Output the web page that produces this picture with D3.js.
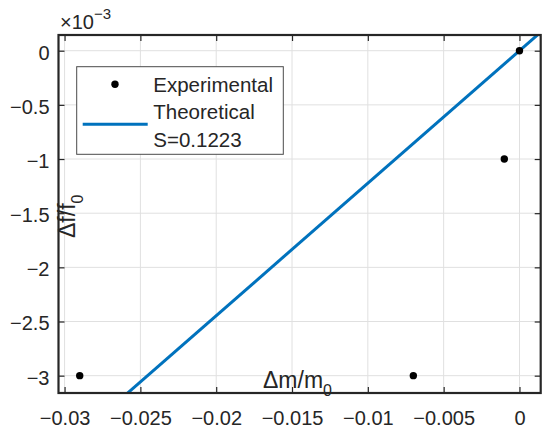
<!DOCTYPE html>
<html>
<head>
<meta charset="utf-8">
<script src="https://cdn.jsdelivr.net/npm/d3@7"></script>
<style>
  html, body { margin: 0; padding: 0; background: #fff; }
  svg { display: block; font-family: "Liberation Sans", Arial, Helvetica, sans-serif; }
  text { fill: #262626; }
</style>
</head>
<body>
<svg id="chart" width="547" height="433"></svg>
<script>
// Measured mass change vs. frequency change
const deltaM = [-0.029, -0.007, -0.001, 0];
const deltaF = [-0.003, -0.003, -0.001, 0];

// Theoretical sensitivity (Δf/f0 = S · Δm/m0)
const sensitivity = 0.1223;
const lineRange = [-0.0304, 0.0014];

// Axis ticks and their labels
const xTicks = [-0.03, -0.025, -0.02, -0.015, -0.01, -0.005, 0];
const xTickLabels = ["−0.03", "−0.025", "−0.02", "−0.015", "−0.01", "−0.005", "0"];
const yTicks = [-0.003, -0.0025, -0.002, -0.0015, -0.001, -0.0005, 0];
const yTickLabels = ["−3", "−2.5", "−2", "−1.5", "−1", "−0.5", "0"];

const legendLabels = ["Experimental", "Theoretical", "S=0.1223"];

const svg = d3.select("#chart");
const plot = { left: 58.5, right: 540.7, top: 35, bottom: 393 };

const x = d3.scaleLinear().domain([-0.0304, 0.0014]).range([plot.left, plot.right]);
const y = d3.scaleLinear().domain([-0.00316, 0.000145]).range([plot.bottom, plot.top]);

const axisColor = "#262626";
const blue = "#0072BD";

// clip region for data
svg.append("defs").append("clipPath").attr("id", "plotClip")
  .append("rect")
  .attr("x", plot.left).attr("y", plot.top)
  .attr("width", plot.right - plot.left).attr("height", plot.bottom - plot.top);

// grid
const grid = svg.append("g");
grid.selectAll("line.gx").data(xTicks).join("line")
  .attr("x1", d => x(d)).attr("x2", d => x(d))
  .attr("y1", plot.top).attr("y2", plot.bottom)
  .attr("stroke", "#e0e0e0").attr("stroke-width", 1);
grid.selectAll("line.gy").data(yTicks).join("line")
  .attr("y1", d => y(d)).attr("y2", d => y(d))
  .attr("x1", plot.left).attr("x2", plot.right)
  .attr("stroke", "#e0e0e0").attr("stroke-width", 1);

// axes with inward ticks
const fmtX = d => xTickLabels[xTicks.indexOf(d)];
const fmtY = d => yTickLabels[yTicks.indexOf(d)];

const gBottom = svg.append("g").attr("transform", `translate(0,${plot.bottom})`)
  .call(d3.axisBottom(x).tickValues(xTicks).tickFormat(fmtX).tickSize(-6).tickSizeOuter(0).tickPadding(18));
const gTop = svg.append("g").attr("transform", `translate(0,${plot.top})`)
  .call(d3.axisTop(x).tickValues(xTicks).tickFormat("").tickSize(-6).tickSizeOuter(0));
const gLeft = svg.append("g").attr("transform", `translate(${plot.left},0)`)
  .call(d3.axisLeft(y).tickValues(yTicks).tickFormat(fmtY).tickSize(-6).tickSizeOuter(0).tickPadding(9));
const gRight = svg.append("g").attr("transform", `translate(${plot.right},0)`)
  .call(d3.axisRight(y).tickValues(yTicks).tickFormat("").tickSize(-6).tickSizeOuter(0));

[gBottom, gTop, gLeft, gRight].forEach(g => {
  g.select(".domain").remove();
  g.selectAll(".tick line").attr("stroke", axisColor).attr("stroke-width", 1.2);
  g.selectAll(".tick text").attr("fill", axisColor)
    .style("font-family", '"Liberation Sans", Arial, sans-serif')
    .style("font-size", "20px");
});
gLeft.selectAll(".tick text").attr("dy", "0.42em");

// theoretical line
const lineData = lineRange.map(m => [m, sensitivity * m]);
svg.append("path")
  .datum(lineData)
  .attr("clip-path", "url(#plotClip)")
  .attr("fill", "none")
  .attr("stroke", blue)
  .attr("stroke-width", 3)
  .attr("d", d3.line().x(d => x(d[0])).y(d => y(d[1])));

// experimental points
svg.append("g").selectAll("circle")
  .data(deltaM.map((m, i) => [m, deltaF[i]]))
  .join("circle")
  .attr("cx", d => x(d[0])).attr("cy", d => y(d[1]))
  .attr("r", 3.7).attr("fill", "#000");

// axes box
svg.append("rect")
  .attr("x", plot.left).attr("y", plot.top)
  .attr("width", plot.right - plot.left).attr("height", plot.bottom - plot.top)
  .attr("fill", "none").attr("stroke", axisColor).attr("stroke-width", 2.2);

// exponent label
const expo = svg.append("text").attr("x", 60).attr("y", 29).style("font-size", "20px");
expo.append("tspan").text("×10");
expo.append("tspan").attr("dy", -10).style("font-size", "15px").text("−3");

// axis labels
const xl = svg.append("text").attr("x", 263).attr("y", 388).style("font-size", "23px");
xl.append("tspan").text("Δm/m");
xl.append("tspan").attr("dy", 8).style("font-size", "16px").text("0");

const yl = svg.append("text").attr("transform", "translate(75,238) rotate(-90)").style("font-size", "23px");
yl.append("tspan").text("Δf/f");
yl.append("tspan").attr("dy", 8).style("font-size", "16px").text("0");

// legend
const lg = svg.append("g");
lg.append("rect")
  .attr("x", 76.7).attr("y", 66.7).attr("width", 206.6).attr("height", 87.6)
  .attr("fill", "#fff").attr("stroke", "#4a4a4a").attr("stroke-width", 1);
lg.append("circle").attr("cx", 115).attr("cy", 84.3).attr("r", 3.7).attr("fill", "#000");
lg.append("line").attr("x1", 82.7).attr("x2", 147.7).attr("y1", 124.3).attr("y2", 124.3)
  .attr("stroke", blue).attr("stroke-width", 3);
lg.selectAll("text.leg").data(legendLabels).join("text")
  .attr("class", "leg")
  .attr("x", 153.3)
  .attr("y", (d, i) => [91.7, 119.3, 146.7][i])
  .style("font-size", "20.5px")
  .text(d => d);
</script>
</body>
</html>
